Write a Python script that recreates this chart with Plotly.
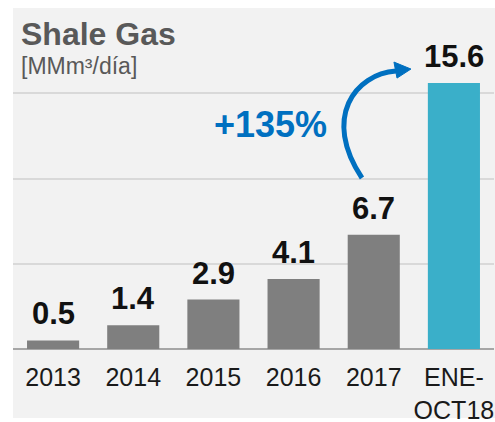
import plotly.graph_objects as go

categories = ["2013", "2014", "2015", "2016", "2017", "ENE-<br>OCT18"]
values = [0.5, 1.4, 2.9, 4.1, 6.7, 15.6]
bar_colors = ["#7f7f7f", "#7f7f7f", "#7f7f7f", "#7f7f7f", "#7f7f7f", "#3aafc9"]
growth_label = "+135%"
title_text = "Shale Gas"
unit_text = "[MMm³/día]"

W, H = 495, 422
L, R, T, B = 13, 1, 8, 73

idx = list(range(len(categories)))

fig = go.Figure()
fig.add_trace(go.Bar(
    x=idx, y=values,
    marker=dict(color=bar_colors, line=dict(width=0)),
    width=0.65,
    hoverinfo="skip",
))

for i, v in zip(idx, values):
    fig.add_annotation(x=i, y=v, xref="x", yref="y", yanchor="bottom", yshift=7,
                       text=f"<b>{v:.1f}</b>", showarrow=False,
                       font=dict(family="Liberation Sans", size=31, color="#111111"))

blue = "#0070c0"
# curved arrow (data coordinates)
fig.add_shape(type="path",
              path="M 3.853,10.03 C 3.354,13.55 3.766,16.13 4.277,16.30",
              xref="x", yref="y",
              line=dict(color=blue, width=5), fillcolor="rgba(0,0,0,0)", layer="above")
fig.add_shape(type="path",
              path="M 4.464,16.42 L 4.252,16.83 L 4.290,15.89 Z",
              xref="x", yref="y",
              line=dict(color=blue, width=1), fillcolor=blue, layer="above")

# grey panel
fig.add_shape(type="rect", xref="paper", yref="paper",
              x0=0, x1=1.01, y0=-(418 - 349) / 341, y1=1,
              fillcolor="#f2f2f2", line=dict(width=0), layer="below")

fig.add_annotation(x=2.706, y=13.14, xref="x", yref="y", text=f"<b>{growth_label}</b>",
                   showarrow=False, font=dict(family="Liberation Sans", size=36, color=blue))
fig.add_annotation(x=0.012, y=0.924, xref="paper", yref="paper", xanchor="left", yanchor="middle",
                   text=f"<b>{title_text}</b>", showarrow=False,
                   font=dict(family="Liberation Sans", size=32, color="#595959"))
fig.add_annotation(x=0.012, y=0.83, xref="paper", yref="paper", xanchor="left", yanchor="middle",
                   text=unit_text, showarrow=False,
                   font=dict(family="Liberation Sans", size=23, color="#595959"))

fig.update_layout(
    width=W, height=H,
    margin=dict(l=L, r=R, t=T, b=B, pad=0, autoexpand=False),
    paper_bgcolor="white",
    plot_bgcolor="rgba(0,0,0,0)",
    showlegend=False,
    xaxis=dict(range=[-0.5, 5.5], tickmode="array", tickvals=idx, ticktext=categories,
               showgrid=False, zeroline=False, showline=False, ticks="",
               ticklabelstandoff=11, automargin=False,
               tickfont=dict(family="Liberation Sans", size=25, color="#1a1a1a"),
               fixedrange=True),
    yaxis=dict(range=[0, 20], dtick=5, showticklabels=False, showgrid=True,
               gridcolor="#d9d9d9", gridwidth=1.5, zeroline=True, zerolinecolor="#a6a6a6",
               zerolinewidth=2, showline=False, ticks="", fixedrange=True, automargin=False),
)

fig.write_html("out.html", config={"displayModeBar": False},
               post_script="document.body.style.margin='0';")
